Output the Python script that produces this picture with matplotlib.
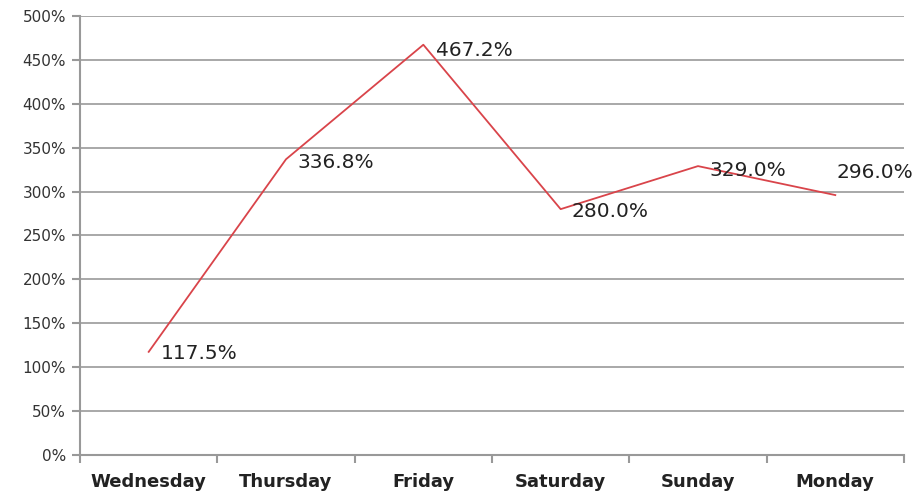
import matplotlib
matplotlib.use('Agg')
import matplotlib.pyplot as plt
import numpy as np

days = ['Wednesday', 'Thursday', 'Friday', 'Saturday', 'Sunday', 'Monday']
values = [117.5, 336.8, 467.2, 280.0, 329.0, 296.0]
y_ticks = list(range(0, 501, 50))

# label offsets in points (Excel pushed the last one up)
label_dx = [9, 8, 9, 8, 8, 1]
label_dy = [-1, -2, -4, -2, -3, 16]

plt.rcParams['font.family'] = ['DejaVu Sans']

fig = plt.figure(figsize=(9.21, 4.98), dpi=100)
ax = fig.add_axes([0.0869, 0.0863, 0.8946, 0.8817])

x = np.arange(len(days))
ax.plot(x, values, color='#D9444A', linewidth=1.3)

for xi, v, dx, dy in zip(x, values, label_dx, label_dy):
    ax.annotate('%.1f%%' % v, (xi, v), xytext=(dx, dy), textcoords='offset points',
                fontsize=14.5, color='#222222', ha='left', va='center')

ax.set_xlim(-0.5, len(days) - 0.5)
ax.set_ylim(0, 500)
ax.set_yticks(y_ticks)
ax.set_yticklabels(['%d%%' % t for t in y_ticks], fontsize=11, color='#333333')

# category labels centred in bands, ticks on band edges
ax.set_xticks(np.arange(-0.5, len(days), 1.0))
ax.set_xticklabels([])
ax.set_xticks(x, minor=True)
ax.set_xticklabels(days, minor=True, fontsize=13, fontweight='bold', color='#222222')
ax.tick_params(axis='x', which='minor', length=0, pad=13)
ax.tick_params(axis='x', which='major', length=6, color='#999999', width=1.5)
ax.tick_params(axis='y', length=6, color='#999999', width=1.5, pad=4)

ax.grid(axis='y', color='#999999', linewidth=1.2)
ax.set_axisbelow(True)
for side in ['top', 'right']:
    ax.spines[side].set_visible(False)
for side in ['left', 'bottom']:
    ax.spines[side].set_color('#999999')
    ax.spines[side].set_linewidth(1.5)

fig.savefig('out.png', dpi=100)
